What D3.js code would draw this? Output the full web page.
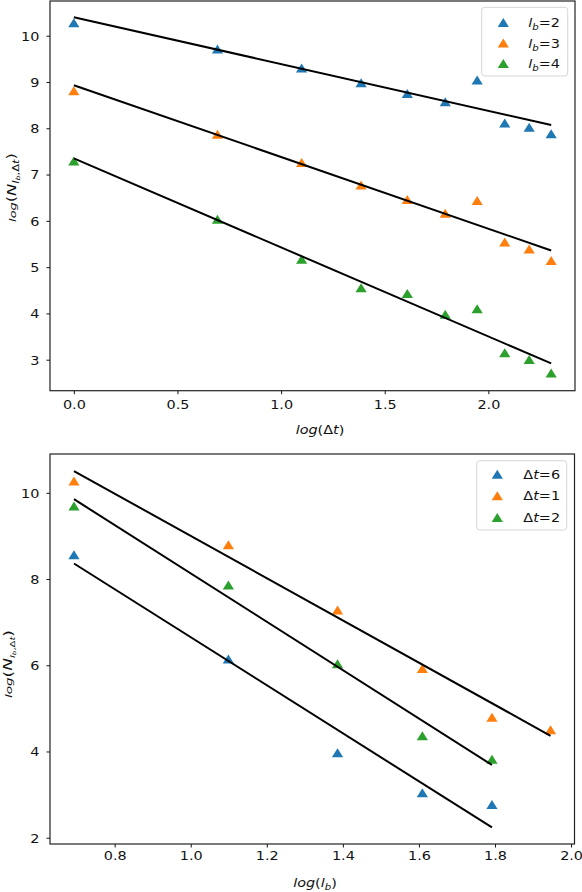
<!DOCTYPE html>
<html><head><meta charset="utf-8">
<script src="https://cdn.jsdelivr.net/npm/d3@7"></script>
<style>body{margin:0;background:#fff} svg{display:block} text{font-family:"DejaVu Sans",sans-serif;fill:#111}</style>
</head><body>
<script>
// ---- Top panel data: log(N) vs log(Δt), one series per l_b ----
const logDt = [0, 0.693, 1.099, 1.386, 1.609, 1.792, 1.946, 2.079, 2.197, 2.303];
const lb2 = [10.28, 9.71, 9.30, 8.98, 8.75, 8.57, 9.04, 8.11, 8.02, 7.88];
const lb3 = [8.81, 7.87, 7.26, 6.77, 6.46, 6.16, 6.44, 5.54, 5.39, 5.14];
const lb4 = [7.29, 6.03, 5.17, 4.55, 4.43, 3.98, 4.10, 3.15, 3.00, 2.71];
const topNames = ["2", "3", "4"];
const topFitIntercept = [10.40, 8.93, 7.35];
const topFitSlope = [-1.012, -1.55, -1.924];
const topXTicks = [0, 0.5, 1.0, 1.5, 2.0];
const topYTicks = [3, 4, 5, 6, 7, 8, 9, 10];

// ---- Bottom panel data: log(N) vs log(l_b), one series per Δt ----
const logLbDt6 = [0.693, 1.099, 1.386, 1.609, 1.792];
const dt6 = [8.56, 6.14, 3.97, 3.04, 2.77];
const logLbDt1 = [0.693, 1.099, 1.386, 1.609, 1.792, 1.946];
const dt1 = [10.27, 8.79, 7.28, 5.92, 4.79, 4.50];
const logLbDt2 = [0.693, 1.099, 1.386, 1.609, 1.792];
const dt2 = [9.69, 7.86, 6.03, 4.36, 3.82];
const botNames = ["6", "1", "2"];
const botFitIntercept = [12.22, 13.90, 13.74];
const botFitSlope = [-5.57, -4.90, -5.61];
const botXTicks = [0.8, 1.0, 1.2, 1.4, 1.6, 1.8, 2.0];
const botYTicks = [2, 4, 6, 8, 10];

const colors = ["#1f77b4", "#ff7f0e", "#2ca02c"];
const SX = 1.2; // horizontal text stretch of the reference

const svg = d3.select("body").append("svg").attr("width", 582).attr("height", 892);
const tri = "M0,-4.6L5.6,4.4L-5.6,4.4Z";

// mathtext-like rendering with tspans
function mtext(textSel, parts, base) {
  let cur = 0;
  parts.forEach(p => {
    const shift = p.shift || 0;
    textSel.append("tspan")
      .attr("font-style", p.i ? "italic" : "normal")
      .attr("font-size", (p.s || base) + "px")
      .attr("dy", shift - cur)
      .text(p.t);
    cur = shift;
  });
}

function panel(cfg) {
  const x = d3.scaleLinear().domain(cfg.xdom).range([cfg.x0, cfg.x1]);
  const y = d3.scaleLinear().domain(cfg.ydom).range([cfg.y1, cfg.y0]);
  const g = svg.append("g");

  // x axis
  const gx = g.append("g").attr("transform", `translate(0,${cfg.y1})`)
    .call(d3.axisBottom(x).tickValues(cfg.xticks).tickFormat(d3.format(".1f"))
      .tickSize(3.5).tickSizeOuter(0));
  gx.select(".domain").remove();
  gx.selectAll(".tick line").attr("stroke", "#111").attr("stroke-width", 1);
  gx.selectAll(".tick text").attr("font-size", "12px").attr("fill", "#111")
    .attr("font-family", "DejaVu Sans").attr("y", cfg.xlabPad).attr("dy", "0.72em")
    .attr("transform", `scale(${SX},1)`);

  // y axis
  const gy = g.append("g").attr("transform", `translate(${cfg.x0},0)`)
    .call(d3.axisLeft(y).tickValues(cfg.yticks).tickFormat(d3.format("d"))
      .tickSize(3.5).tickSizeOuter(0));
  gy.select(".domain").remove();
  gy.selectAll(".tick line").attr("stroke", "#111").attr("stroke-width", 1);
  gy.selectAll(".tick text").attr("font-size", "12px").attr("fill", "#111")
    .attr("font-family", "DejaVu Sans").attr("x", -8.8).attr("dy", "0.36em")
    .attr("transform", `scale(${SX},1)`);

  // markers
  cfg.series.forEach((s, i) => {
    g.append("g").selectAll("path").data(s.xs.map((v, k) => [v, s.ys[k]])).join("path")
      .attr("d", tri).attr("fill", colors[i])
      .attr("transform", d => `translate(${x(d[0])},${y(d[1])})`);
  });
  // fit lines
  cfg.series.forEach((s, i) => {
    const xa = d3.min(s.xs), xb = d3.max(s.xs);
    const line = d3.line().x(d => x(d)).y(d => y(cfg.fitB[i] + cfg.fitA[i] * d));
    g.append("path").attr("d", line([xa, xb])).attr("fill", "none")
      .attr("stroke", "#000").attr("stroke-width", 2);
  });

  // frame
  g.append("rect").attr("x", cfg.x0).attr("y", cfg.y0)
    .attr("width", cfg.x1 - cfg.x0).attr("height", cfg.y1 - cfg.y0)
    .attr("fill", "none").attr("stroke", "#222").attr("stroke-width", 1.2);

  // legend
  const L = cfg.legend;
  const lg = g.append("g");
  lg.append("rect").attr("x", L.x0).attr("y", L.y0).attr("width", L.x1 - L.x0)
    .attr("height", L.y1 - L.y0).attr("rx", 3).attr("fill", "#fff").attr("fill-opacity", 0.8)
    .attr("stroke", "#d5d5d5").attr("stroke-width", 1);
  cfg.series.forEach((s, i) => {
    const cy = L.rows[i];
    lg.append("path").attr("d", tri).attr("fill", colors[i])
      .attr("transform", `translate(${L.mx},${cy})`);
    const t = lg.append("g").attr("transform", `translate(${L.tx},${cy + 4.5}) scale(${SX},1)`)
      .append("text");
    mtext(t, L.label(cfg.names[i]), 12);
  });

  // x label
  const xl = g.append("g").attr("transform", `translate(${cfg.xlab[0]},${cfg.xlab[1]}) scale(${SX},1)`)
    .append("text").attr("text-anchor", "middle");
  mtext(xl, cfg.xlabParts, 12);

  // y label
  const yg = g.append("g").attr("transform", `translate(${cfg.ylab[0]},${cfg.ylab[1]}) rotate(-90)`);
  const yl = yg.append("text").attr("text-anchor", "middle");
  mtext(yl, cfg.ylabParts, 12);
  const bb = yl.node().getBBox();
  yl.attr("transform", `scale(${cfg.ylabLen / bb.width},1)`);
}

panel({
  x0: 50, x1: 575, y0: 1, y1: 390.7,
  xdom: [-0.115, 2.418], ydom: [2.33, 10.75],
  xticks: topXTicks, yticks: topYTicks, xlabPad: 12.6 - 3.5 + 0.1,
  series: [{xs: logDt, ys: lb2}, {xs: logDt, ys: lb3}, {xs: logDt, ys: lb4}],
  names: topNames, fitB: topFitIntercept, fitA: topFitSlope,
  legend: {x0: 481.7, x1: 567.7, y0: 7.3, y1: 76, mx: 503.3, tx: 528.3, rows: [22.5, 43, 63.5],
    label: n => [{t: "l", i: 1}, {t: "b", i: 1, s: 8.5, shift: 3}, {t: "=" + n}]},
  xlab: [320, 433.5],
  xlabParts: [{t: "log", i: 1}, {t: "(Δ"}, {t: "t", i: 1}, {t: ")"}],
  ylab: [16, 187.5], ylabLen: 69,
  ylabParts: [{t: "log", i: 1, s: 9.5}, {t: "("}, {t: "N", i: 1},
    {t: "l", i: 1, s: 8.5, shift: 2.5}, {t: "b", i: 1, s: 6, shift: 4}, {t: ",Δ", s: 8.5, shift: 2.5},
    {t: "t", i: 1, s: 8.5, shift: 2.5}, {t: ")", shift: 0}]
});

panel({
  x0: 50, x1: 574.5, y0: 454, y1: 844,
  xdom: [0.630, 2.009], ydom: [1.854, 10.90],
  xticks: botXTicks, yticks: botYTicks, xlabPad: 11.2 - 3.5 + 0.1,
  series: [{xs: logLbDt6, ys: dt6}, {xs: logLbDt1, ys: dt1}, {xs: logLbDt2, ys: dt2}],
  names: botNames, fitB: botFitIntercept, fitA: botFitSlope,
  legend: {x0: 476.7, x1: 566.7, y0: 460.7, y1: 530, mx: 497.3, tx: 523.3, rows: [474.3, 495.9, 517.7],
    label: n => [{t: "Δ"}, {t: "t", i: 1}, {t: "=" + n}]},
  xlab: [315, 887],
  xlabParts: [{t: "log", i: 1}, {t: "("}, {t: "l", i: 1}, {t: "b", i: 1, s: 8.5, shift: 3}, {t: ")", shift: 0}],
  ylab: [12, 664], ylabLen: 68,
  ylabParts: [{t: "log", i: 1, s: 9.5}, {t: "("}, {t: "N", i: 1},
    {t: "l", i: 1, s: 7, shift: 2.5}, {t: "b", i: 1, s: 5, shift: 4}, {t: ",Δ", s: 7, shift: 2.5},
    {t: "t", i: 1, s: 7, shift: 2.5}, {t: ")", shift: 0}]
});
</script>
</body></html>
